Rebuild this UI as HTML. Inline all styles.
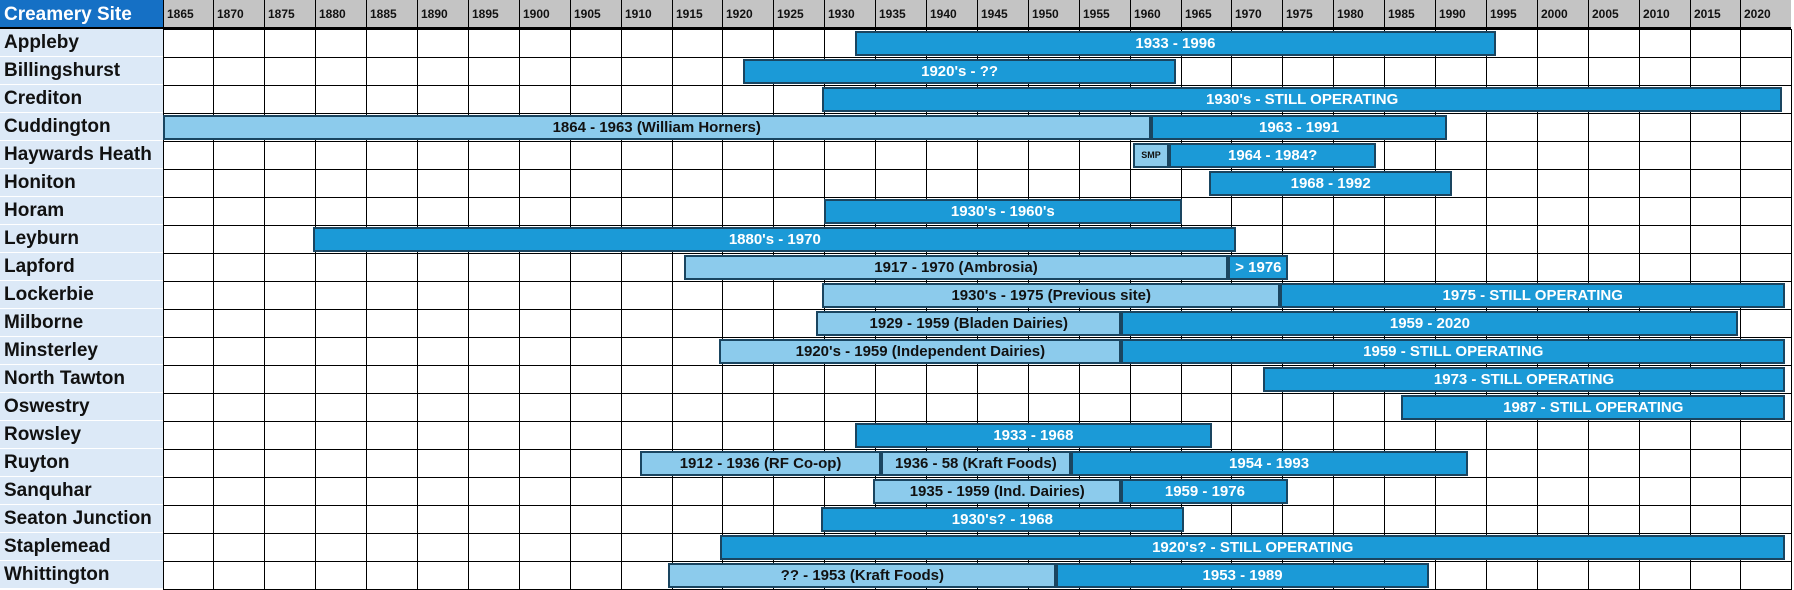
<!DOCTYPE html>
<html><head><meta charset="utf-8">
<style>
body{margin:0;width:1794px;height:590px;overflow:hidden;background:#fff;font-family:"Liberation Sans Narrow","Liberation Sans",sans-serif;}
#c{position:relative;width:1794px;height:590px;}
.a{position:absolute;box-sizing:border-box;}
</style></head><body>
<div id="c"></div>
<script>
const years=[1865,1870,1875,1880,1885,1890,1895,1900,1905,1910,1915,1920,1925,1930,1935,1940,1945,1950,1955,1960,1965,1970,1975,1980,1985,1990,1995,2000,2005,2010,2015,2020];
const sites=["Appleby","Billingshurst","Crediton","Cuddington","Haywards Heath","Honiton","Horam","Leyburn","Lapford","Lockerbie","Milborne","Minsterley","North Tawton","Oswestry","Rowsley","Ruyton","Sanquhar","Seaton Junction","Staplemead","Whittington"];
const barRow=[0,1,2,3,3,4,4,5,6,7,8,8,9,9,10,10,11,11,12,13,14,15,15,15,16,16,17,18,19,19];
const barStart=[1933,1922,1929.8,1865,1962.1,1960.3,1963.9,1967.8,1930,1879.8,1916.2,1969.7,1929.8,1974.8,1929.2,1959.2,1919.7,1959.2,1973.1,1986.7,1933,1911.9,1935.6,1954.2,1934.8,1959.2,1929.7,1919.8,1914.7,1952.8];
const barEnd=[1996,1964.6,2024.1,1962.1,1991.2,1963.9,1984.2,1991.7,1965.1,1970.5,1969.7,1975.6,1974.8,2024.4,1959.2,2019.8,1959.2,2024.4,2024.4,2024.4,1968.1,1935.6,1954.2,1993.2,1959.2,1975.6,1965.3,2024.4,1952.8,1989.4];
const barType=["d","d","d","l","d","l","d","d","d","d","l","d","l","d","l","d","l","d","d","d","d","l","l","d","l","d","d","d","l","d"];
const barLabel=["1933 - 1996","1920's - ??","1930's -  STILL OPERATING","1864 - 1963 (William Horners)","1963 - 1991","SMP","1964 - 1984?","1968 - 1992","1930's - 1960's","1880's - 1970","1917 - 1970 (Ambrosia)","> 1976","1930's - 1975 (Previous site)","1975 - STILL OPERATING","1929 - 1959 (Bladen Dairies)","1959 - 2020","1920's - 1959 (Independent Dairies)","1959 - STILL OPERATING","1973 - STILL OPERATING","1987 - STILL OPERATING","1933 - 1968","1912 - 1936 (RF Co-op)","1936 - 58 (Kraft Foods)","1954 - 1993","1935 - 1959 (Ind. Dairies)","1959 - 1976","1930's? - 1968","1920's? - STILL OPERATING","?? - 1953 (Kraft Foods)","1953 - 1989"];
const X0=162.5,CW=50.9,HH=29,RH=28;
function x(y){return X0+(y-1865)/5*CW;}
function ry(i){return HH+i*RH;}
const c=document.getElementById('c');
function mk(name,css,txt){const d=document.createElement('div');d.className='a';d.style.cssText=css;if(txt!==undefined)d.textContent=txt;c.appendChild(d);return d;}
let h=mk('', `left:0;top:0;width:163px;height:${HH}px;background:#1570c5;color:#fff;font-weight:bold;font-size:19px;line-height:${HH}px;padding-left:4px;font-family:"Liberation Sans",sans-serif;border-bottom:2px solid #000`,"Creamery Site");


years.forEach((yr,i)=>{
  const l=Math.round(x(yr)), r=Math.round(x(yr+5));
  const d=mk('',`left:${l}px;top:0;width:${r-l}px;height:${HH}px;background:#c4c4c4;border-left:1px solid #000;border-bottom:2px solid #000;font-weight:bold;font-size:12px;line-height:${HH}px;padding-left:3px;color:#111`,String(yr));
  
  
});
sites.forEach((s,i)=>{
  const l=mk('',`left:0;top:${ry(i)}px;width:163px;height:${RH}px;background:#dce9f7;border-bottom:1px solid #fff;font-weight:bold;font-size:19px;line-height:${RH}px;padding-left:4px;color:#111;font-family:"Liberation Sans",sans-serif`,s);
  
  
  years.forEach((yr)=>{
    const gl=Math.round(x(yr)), gr=Math.round(x(yr+5));
    const g=mk('',`left:${gl}px;top:${ry(i)}px;width:${gr-gl+1}px;height:${RH+1}px;border:1px solid #000`);
    
    
  });
});
barLabel.forEach((lab,i)=>{
  const x1=x(barStart[i]),x2=x(barEnd[i]);
  const dark=barType[i]==='d';
  const small=lab==='SMP';
  const b=mk('',`left:${x1}px;top:${ry(barRow[i])+2}px;width:${x2-x1}px;height:${RH-3}px;background:${dark?'#1b9ad7':'#8ccbec'};border:2px solid #1a4560;color:${dark?'#fff':'#111'};font-weight:bold;font-size:${small?9:15}px;line-height:${RH-7}px;text-align:center;white-space:nowrap;overflow:hidden`,lab);
  
  
});
</script>
</body></html>
